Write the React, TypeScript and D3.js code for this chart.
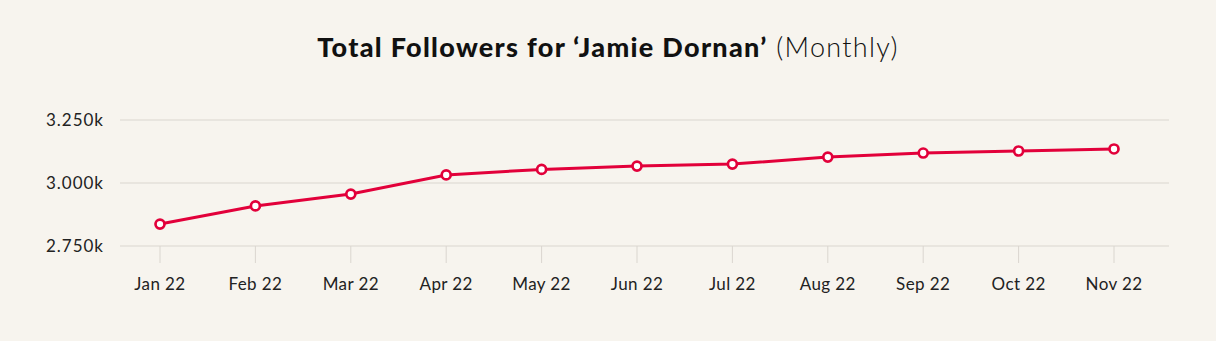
import React from "react";
import * as d3 from "d3";

const months = ["Jan 22", "Feb 22", "Mar 22", "Apr 22", "May 22", "Jun 22", "Jul 22", "Aug 22", "Sep 22", "Oct 22", "Nov 22"];
const followers = [2837, 2909, 2956, 3032, 3054, 3067, 3075, 3103, 3119, 3127, 3135];
const yTicks = [2750, 3000, 3250];
const yTickLabels = ["2.750k", "3.000k", "3.250k"];

const W = 1216;
const H = 341;
const FONT = "Lato, 'Open Sans', sans-serif";
const RED = "#e2003a";
const GRID = "#dad6cf";

export default function App() {
  const x = d3.scalePoint<string>().domain(months).range([160, 1114]);
  const y = d3.scaleLinear().domain([2750, 3250]).range([246, 120]);
  const line = d3
    .line<number>()
    .x((_, i) => x(months[i]) as number)
    .y((d) => y(d));

  return (
    <svg width={W} height={H} style={{ display: "block", position: "absolute", left: 0, top: 0 }}>
      <rect width={W} height={H} fill="#f7f4ee" />
      <text x={608} y={57} textAnchor="middle" fontFamily={FONT} fontSize={27} letterSpacing={1.3} fill="#111">
        <tspan fontWeight={900}>Total Followers for ‘Jamie Dornan’</tspan>
        <tspan fontWeight={300}> (Monthly)</tspan>
      </text>
      {yTicks.map((t, i) => (
        <g key={t}>
          <line x1={120} x2={1169} y1={y(t)} y2={y(t)} stroke={GRID} strokeWidth={1} />
          <text x={104} y={y(t) + 6} textAnchor="end" fontFamily={FONT} fontSize={17} letterSpacing={1} fill="#222">
            {yTickLabels[i]}
          </text>
        </g>
      ))}
      {months.map((m) => (
        <g key={m}>
          <line x1={x(m)} x2={x(m)} y1={246} y2={263} stroke={GRID} strokeWidth={1} />
          <text x={x(m)} y={290} textAnchor="middle" fontFamily={FONT} fontSize={17} letterSpacing={0.4} fill="#222">
            {m}
          </text>
        </g>
      ))}
      <path d={line(followers) || ""} fill="none" stroke={RED} strokeWidth={3} />
      {followers.map((v, i) => (
        <circle key={i} cx={x(months[i])} cy={y(v)} r={4.5} fill="#fff" stroke={RED} strokeWidth={2.7} />
      ))}
    </svg>
  );
}
